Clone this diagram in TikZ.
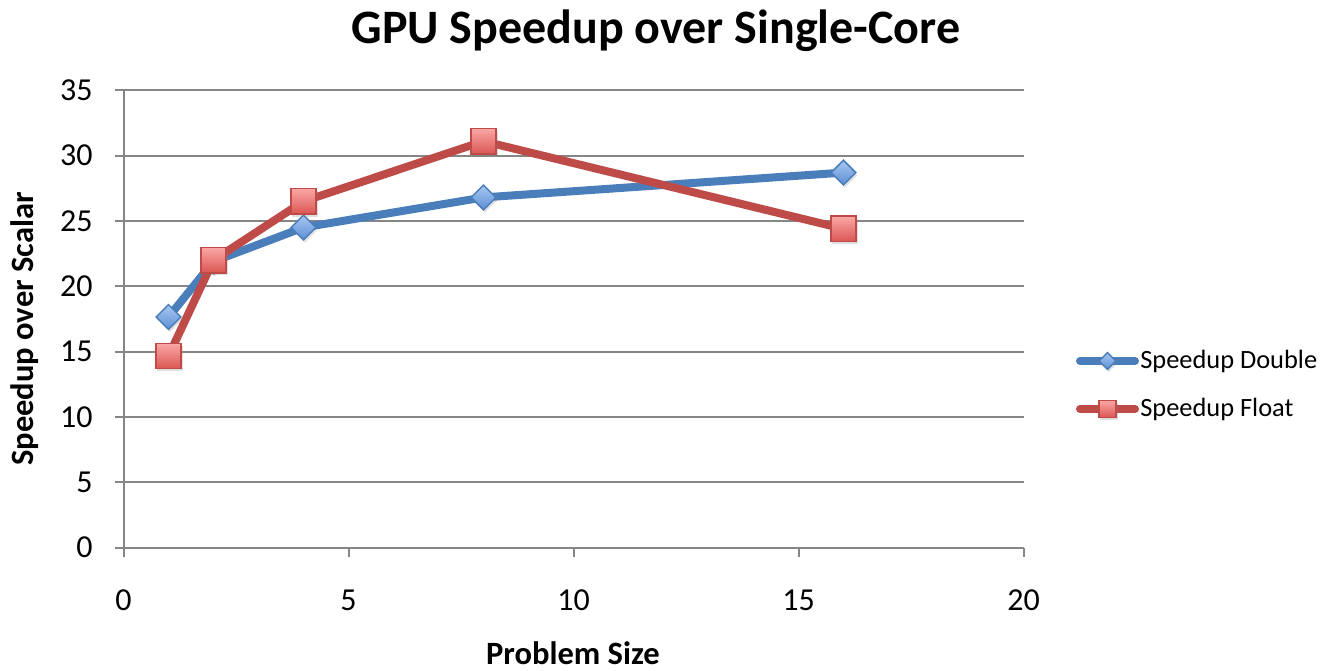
\documentclass[tikz,border=0pt]{standalone}
\usepackage{fontspec}
\setmainfont{Carlito}
\usetikzlibrary{shapes.geometric,shadings,shadows,calc}
\definecolor{gridgray}{HTML}{868686}
\definecolor{dblline}{HTML}{4A7EBB}
\definecolor{dbllight}{HTML}{A9C7F0}
\definecolor{dbldark}{HTML}{5B8FD6}
\definecolor{fltline}{HTML}{BE4B48}
\definecolor{fltlight}{HTML}{FAA7A5}
\definecolor{fltdark}{HTML}{DB5653}
\tikzset{
  gridline/.style={draw=gridgray,line width=1.5pt},
  series/.style={line width=6pt,line join=round,line cap=round},
  dblmark/.style={diamond,draw=dblline,line width=1.1pt,minimum width=19pt,minimum height=19pt,inner sep=0pt,
    top color=dbllight,bottom color=dbldark,drop shadow={opacity=0.25,shadow xshift=1pt,shadow yshift=-2pt}},
  fltmark/.style={rectangle,draw=fltline,line width=1.1pt,minimum width=19pt,minimum height=19pt,inner sep=0pt,
    top color=fltlight,bottom color=fltdark,drop shadow={opacity=0.25,shadow xshift=1pt,shadow yshift=-2pt}},
  ticklabel/.style={font=\fontsize{24}{28}\selectfont,inner sep=0pt},
  axistitle/.style={font=\fontsize{24.4}{28}\selectfont\bfseries,inner sep=0pt},
  legendtext/.style={font=\fontsize{19.8}{24}\selectfont,inner sep=0pt,anchor=west},
}
\begin{document}
\begin{tikzpicture}[x=0.75pt,y=-0.75pt]
\useasboundingbox (0,0) rectangle (1322,671);
% title
\node[font=\fontsize{36}{42}\selectfont\bfseries,inner sep=0pt,anchor=base] (title) at (656,43) {GPU Speedup over Single-Core};
% plot frame: horizontal grid lines and ticks
\begin{scope}[shift={(123.5,547.7)},xscale=45,yscale=-13.07]
  \foreach \v in {5,10,...,35} {
    \draw[gridline] (-0.2,\v) -- (20,\v);
    \node[ticklabel,anchor=east] (yl\v) at (-0.68,\v) {\v};
  }
  \node[ticklabel,anchor=east] (yl0) at (-0.68,0) {0};
  \draw[gridline] (-0.2,0) -- (20,0);
  \draw[gridline] (0,0) -- (0,35);
  \foreach \v in {0,5,...,20} {
    \draw[gridline] (\v,0) -- (\v,-0.7);
    \node[ticklabel] (xl\v) at (\v,-4.0) {\v};
  }
  % data points
  \coordinate (d1) at (1,17.65);  \coordinate (d2) at (2,21.9);
  \coordinate (d4) at (4,24.5);   \coordinate (d8) at (8,26.8);
  \coordinate (d16) at (16,28.7);
  \coordinate (f1) at (1,14.67);  \coordinate (f2) at (2,22.0);
  \coordinate (f4) at (4,26.5);   \coordinate (f8) at (8,31.1);
  \coordinate (f16) at (16,24.4);
\end{scope}
% series lines
\draw[series,dblline] (d1) -- (d2) -- (d4) -- (d8) -- (d16);
\draw[series,fltline] (f1) -- (f2) -- (f4) -- (f8) -- (f16);
% markers
\foreach \p in {d1,d2,d4,d8,d16} \node[dblmark] (m\p) at (\p) {};
\foreach \p in {f1,f2,f4,f8,f16} \node[fltmark] (m\p) at (\p) {};
% axis titles
\node[axistitle,rotate=90] (ytitle) at (25,329) {Speedup over Scalar};
\node[axistitle,anchor=base] (xtitle) at (573,664) {Problem Size};
% legend
\coordinate (lgA1) at (1080,361); \coordinate (lgA2) at (1135,361);
\coordinate (lgB1) at (1080,409); \coordinate (lgB2) at (1135,409);
\draw[series,dblline] (lgA1) -- (lgA2);
\node[dblmark,minimum width=13pt,minimum height=13pt] (lgAm) at ($(lgA1)!0.5!(lgA2)$) {};
\draw[series,fltline] (lgB1) -- (lgB2);
\node[fltmark,minimum width=13pt,minimum height=13pt] (lgBm) at ($(lgB1)!0.5!(lgB2)$) {};
\node[legendtext] (lgAt) at (1140,361) {Speedup Double};
\node[legendtext] (lgBt) at (1140,409) {Speedup Float};
\end{tikzpicture}
\end{document}
